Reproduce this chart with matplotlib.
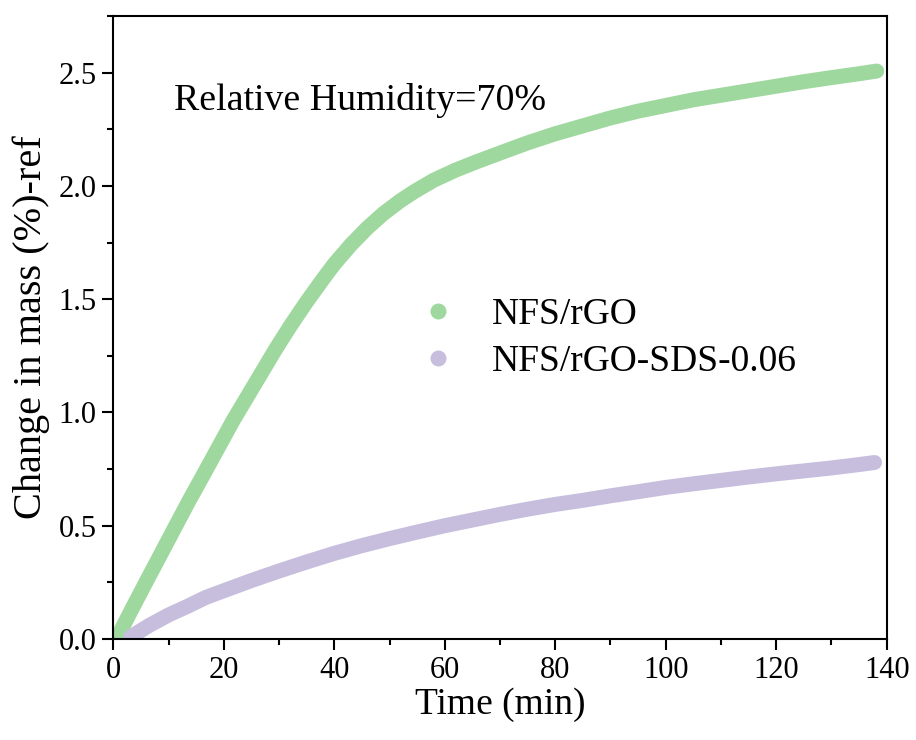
import numpy as np
import matplotlib
matplotlib.use("Agg")
import matplotlib.pyplot as plt
from matplotlib.lines import Line2D
from matplotlib.ticker import MultipleLocator

# values
t_rgo = [0.6, 3.0, 6.0, 8.5, 11.2, 13.7, 16.2, 19.0, 21.7, 25.0, 29.4, 32.0,
         34.9, 38.0, 40.0, 43.0, 46.0, 49.0, 52.0, 54.5, 58.0, 62.0, 65.6,
         70.0, 75.0, 80.0, 85.0, 90.0, 95.0, 100.0, 105.0, 110.0, 115.0,
         120.0, 125.0, 130.0, 135.0, 138.2]
m_rgo = [0.0, 0.115, 0.255, 0.37, 0.495, 0.61, 0.72, 0.845, 0.965, 1.10,
         1.28, 1.38, 1.485, 1.59, 1.655, 1.74, 1.815, 1.88, 1.935, 1.975,
         2.025, 2.07, 2.105, 2.145, 2.19, 2.23, 2.265, 2.30, 2.33, 2.355,
         2.38, 2.40, 2.42, 2.44, 2.46, 2.478, 2.495, 2.507]

t_sds = [3.2, 6.5, 10.0, 13.5, 16.8, 20.0, 25.0, 30.0, 35.0, 40.0, 45.0,
         50.0, 55.0, 60.0, 65.0, 70.0, 75.0, 80.0, 85.0, 90.0, 95.0, 100.0,
         105.0, 110.0, 115.0, 120.0, 125.0, 130.0, 135.0, 137.8]
m_sds = [0.01, 0.06, 0.106, 0.145, 0.184, 0.213, 0.258, 0.30, 0.34, 0.378,
         0.412, 0.443, 0.472, 0.50, 0.525, 0.55, 0.573, 0.594, 0.612, 0.632,
         0.65, 0.669, 0.685, 0.70, 0.715, 0.729, 0.742, 0.755, 0.77, 0.779]

labels = ["NFS/rGO", "NFS/rGO-SDS-0.06"]
colors = ["#9ed89e", "#c7bedd"]

plt.rcParams["font.family"] = ["Liberation Serif", "DejaVu Serif"]

fig = plt.figure(figsize=(9.16, 7.4), dpi=100)
ax = fig.add_axes([0.1237, 0.1365, 0.8443, 0.8419])

ax.plot(t_rgo, m_rgo, color=colors[0], lw=10.8, solid_capstyle="round",
        solid_joinstyle="round")
ax.plot(t_sds, m_sds, color=colors[1], lw=10.8, solid_capstyle="round",
        solid_joinstyle="round")

ax.set_xlim(0, 140)
ax.set_ylim(0, 2.75)
ax.xaxis.set_major_locator(MultipleLocator(20))
ax.xaxis.set_minor_locator(MultipleLocator(10))
ax.yaxis.set_major_locator(MultipleLocator(0.5))
ax.yaxis.set_minor_locator(MultipleLocator(0.25))
ax.yaxis.set_major_formatter(matplotlib.ticker.FormatStrFormatter("%.1f"))

for s in ax.spines.values():
    s.set_linewidth(1.5)
ax.tick_params(which="major", direction="out", length=8, width=1.5,
               labelsize=22, pad=4)
ax.tick_params(which="minor", direction="out", length=4.5, width=1.5)

ax.set_xlabel("Time (min)", fontsize=27, labelpad=2)
ax.set_ylabel("Change in mass (%)-ref", fontsize=29, labelpad=6)

ax.text(0.079, 0.8636, "Relative Humidity=70%", transform=ax.transAxes,
        fontsize=27.3, va="center", ha="left")

handles = [Line2D([], [], ls="none", marker="o", markersize=11.5,
                  color=c, markeredgewidth=0) for c in colors]
ax.legend(handles, labels, loc="center left", frameon=False, fontsize=27,
          bbox_to_anchor=(0.395, 0.4827), borderpad=0, borderaxespad=0,
          handlelength=1.0, handletextpad=0.95, labelspacing=0.35)

plt.savefig("out.png", dpi=100)
